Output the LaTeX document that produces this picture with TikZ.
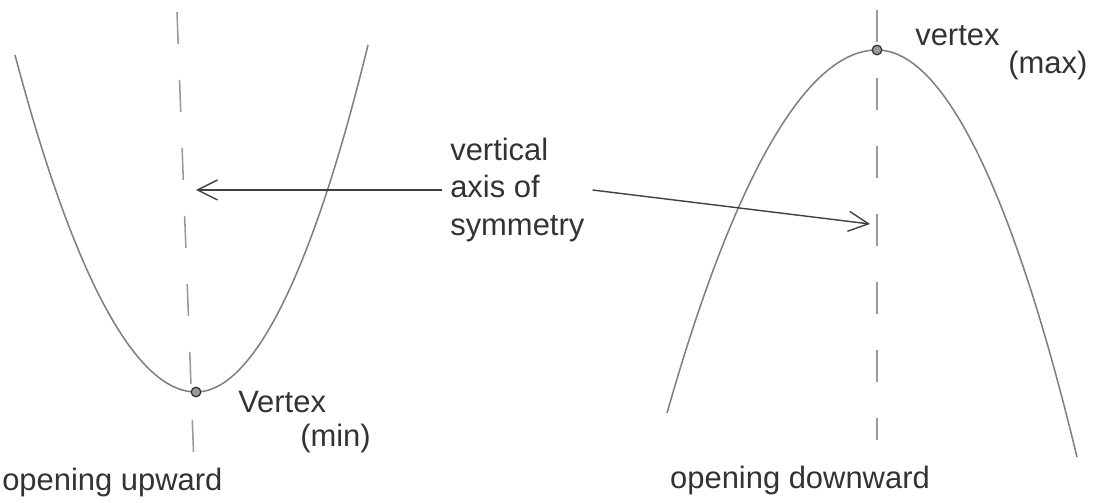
\documentclass[tikz,border=0pt]{standalone}
\usepackage{fontspec}
\setmainfont{Liberation Sans}
\usepackage{tikz}
\usetikzlibrary{arrows.meta,positioning}

\begin{document}
\begin{tikzpicture}[x=0.025cm,y=-0.025cm,
  >={Straight Barb[length=5mm,width=5mm]},
  curve/.style={draw=black!50,line width=1.1pt},
  symaxis/.style={draw=black!40,line width=1.1pt,dash pattern=on 0.8cm off 0.9cm},
  vdot/.style={circle,draw=black!80,fill=black!40,line width=0.9pt,inner sep=0pt,minimum size=2.4mm},
  hand/.style={text=black!80,font=\fontsize{22}{27}\selectfont,inner sep=0pt},
  pointer/.style={draw=black!75,line width=1pt,->}]
\useasboundingbox (0,0) rectangle (1108,503);
% opening upward
\coordinate (ua) at (177,12);
\coordinate (ub) at (194,465);
\coordinate (ul) at (15,55);
\coordinate (ur) at (368,45);
\coordinate (vmin) at (196,392);
\draw[symaxis] (ua) -- (ub);
\draw[curve] (ul) parabola bend (vmin) (ur);
\node[vdot] (dmin) at (vmin) {};
\node[hand,anchor=base west] (minlbl) at (238,412) {Vertex};
\node[hand,anchor=base west] (minlbl2) at (300,446) {(min)};
\node[hand,anchor=base west] (uplbl) at (2,490) {opening upward};
% opening downward
\coordinate (da) at (877,10);
\coordinate (db) at (877,440);
\coordinate (dl) at (667,413);
\coordinate (dr) at (1077,457);
\coordinate (vmax) at (877,50);
\draw[symaxis] (da) -- (db);
\draw[curve] (dl) parabola bend (vmax) (dr);
\node[vdot] (dmax) at (vmax) {};
\node[hand,anchor=base west] (maxlbl) at (915,46) {vertex};
\node[hand,anchor=base west] (maxlbl2) at (1008,74) {(max)};
\node[hand,anchor=base] (downlbl) at (800,488) {opening downward};
% label in the middle
\node[hand,anchor=west,align=left] (symlbl) at (450,190) {vertical\\axis of\\symmetry};
\coordinate (lax) at (196,190);
\coordinate (rax) at (870,224);
\draw[pointer] ([xshift=-2mm]symlbl.west) -- (lax);
\draw[pointer] ([xshift=2mm]symlbl.east) -- (rax);
\end{tikzpicture}
\end{document}
